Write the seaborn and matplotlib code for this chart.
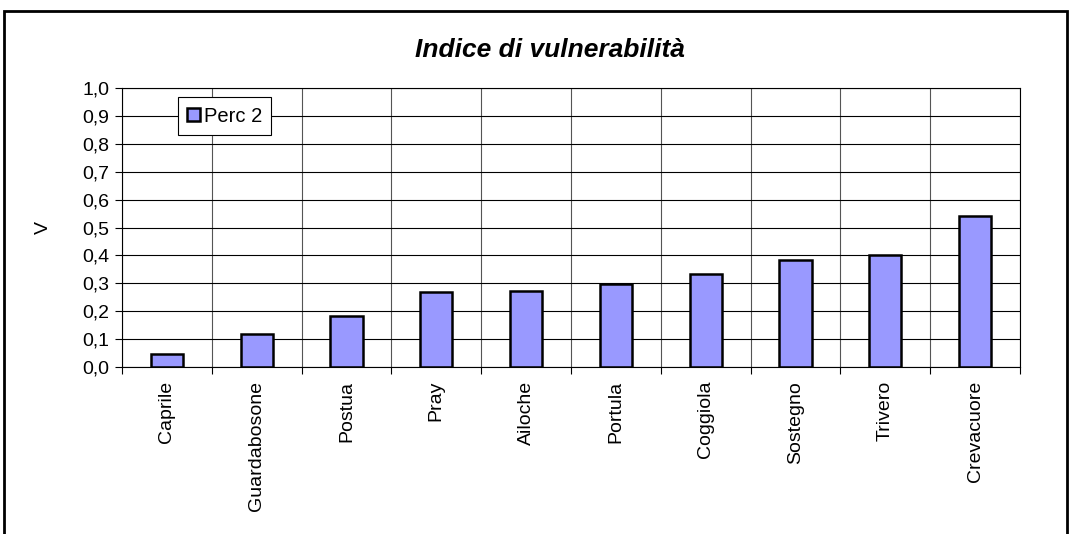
import matplotlib.pyplot as plt
import matplotlib.ticker as mticker
import matplotlib.patches as mpatches
import seaborn as sns
import pandas as pd

FONT = "Liberation Sans"

comuni = ["Caprile", "Guardabosone", "Postua", "Pray", "Ailoche",
          "Portula", "Coggiola", "Sostegno", "Trivero", "Crevacuore"]
perc2 = [0.046, 0.118, 0.184, 0.268, 0.272, 0.296, 0.332, 0.383, 0.400, 0.540]
yticks = [0.0, 0.1, 0.2, 0.3, 0.4, 0.5, 0.6, 0.7, 0.8, 0.9, 1.0]

df = pd.DataFrame({"Comune": comuni, "V": perc2, "Serie": "Perc 2"})

sns.set_style("white")
plt.rcParams["font.family"] = [FONT, "DejaVu Sans"]
plt.rcParams["text.color"] = "black"
plt.rcParams["axes.labelcolor"] = "black"
plt.rcParams["xtick.color"] = "black"
plt.rcParams["ytick.color"] = "black"

fig = plt.figure(figsize=(10.73, 5.34), dpi=100)
ax = fig.add_axes([0.1137, 0.3127, 0.8369, 0.5225])

sns.barplot(data=df, x="Comune", y="V", hue="Serie", palette=["#9999ff"],
            saturation=1, width=0.36, edgecolor="black", linewidth=1.8, ax=ax)

ax.set_xlim(-0.5, len(comuni) - 0.5)
ax.set_ylim(0, 1.0)
ax.set_yticks(yticks)
ax.yaxis.set_major_formatter(mticker.FuncFormatter(lambda v, p: f"{v:.1f}".replace(".", ",")))
ax.set_xticks(range(len(comuni)))
ax.set_xticklabels(comuni, rotation=90, fontsize=14)
ax.set_xticks([i + 0.5 for i in range(-1, len(comuni))], minor=True)
ax.tick_params(axis="x", which="major", length=0, pad=10)
ax.tick_params(axis="x", which="minor", length=5, width=0.8, color="black", direction="out", bottom=True)
ax.tick_params(axis="y", length=5, width=0.8, color="black", direction="out", left=True,
               labelsize=14, pad=4)

ax.grid(axis="y", color="black", linewidth=0.8)
ax.grid(axis="x", which="minor", color="#555555", linewidth=0.8)
ax.set_axisbelow(True)
for s in ax.spines.values():
    s.set_color("black")
    s.set_linewidth(0.8)

ax.set_xlabel("")
ax.set_ylabel("V", fontsize=14, labelpad=22)
ax.set_title("Indice di vulnerabilità", fontsize=19, fontweight="bold",
             fontstyle="italic", pad=22, x=0.477, color="black")

leg = ax.legend(loc="upper left", bbox_to_anchor=(0.062, 0.966), fontsize=14.5,
                frameon=True, fancybox=False, edgecolor="black", framealpha=1,
                handlelength=0.65, handleheight=0.65, handletextpad=0.2,
                borderpad=0.45, borderaxespad=0)
leg.get_frame().set_linewidth(0.8)

# outer chart border (bottom edge falls outside the picture)
fig.patches.append(mpatches.Rectangle((0.004, -0.05), 0.99, 1.03, transform=fig.transFigure,
                                      fill=False, edgecolor="black", linewidth=2))

plt.savefig("out.png", dpi=100)
